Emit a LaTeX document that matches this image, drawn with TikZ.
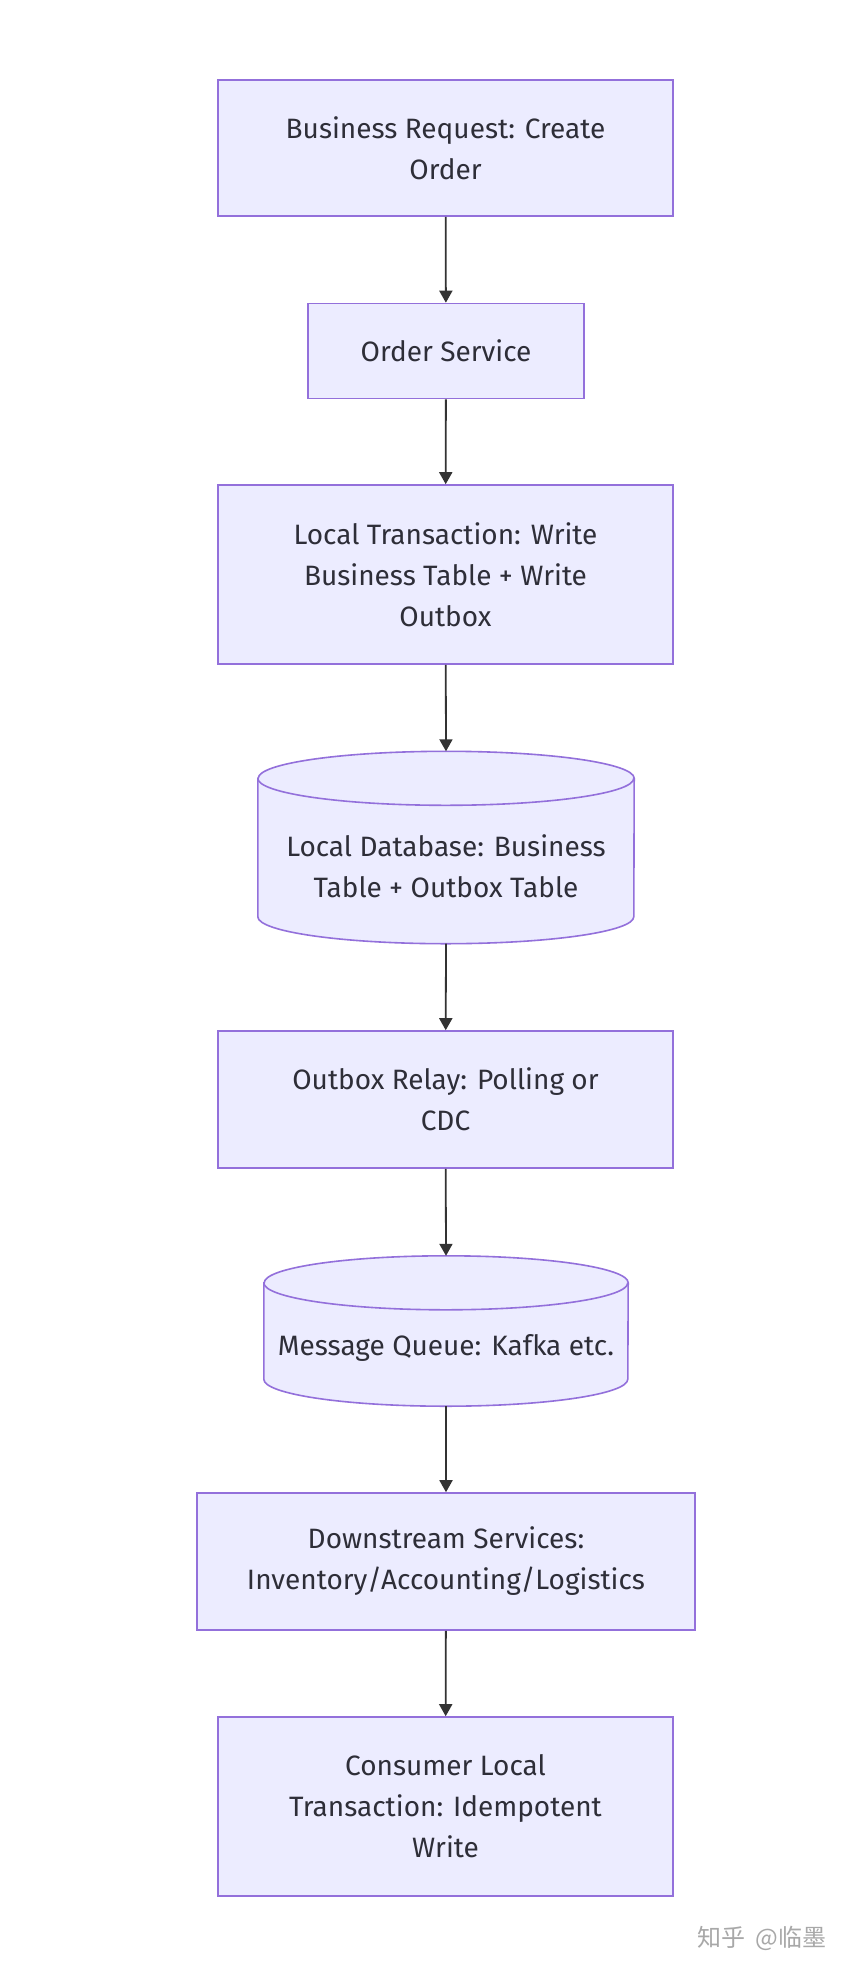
\documentclass[tikz,border=0pt]{standalone}
\usepackage{fontspec}
\setmainfont{Fira Sans}
\newfontfamily\cjk{Noto Sans CJK SC}
\usetikzlibrary{arrows.meta}
\definecolor{boxfill}{HTML}{ECECFF}
\definecolor{boxline}{HTML}{9370DB}
\definecolor{arrowc}{HTML}{333333}
\definecolor{txt}{HTML}{2E2E38}
\definecolor{wm}{HTML}{A8A8A8}
\tikzset{
  x=1pt, y=1pt,
  stepbox/.style={draw=boxline, fill=boxfill, line width=1.6pt, align=center,
    text=txt, font=\fontsize{28}{41}\selectfont, inner sep=0pt},
  cylbody/.style={draw=boxline, fill=boxfill, line width=1.6pt},
  cylhold/.style={inner sep=0pt},
  cyltext/.style={align=center, text=txt, font=\fontsize{28}{41}\selectfont, inner sep=0pt},
  flow/.style={draw=arrowc, line width=1.8pt, -{Triangle[width=13pt,length=12pt]}},
}
\begin{document}
\begin{tikzpicture}
\useasboundingbox[fill=white] (0,0) rectangle (850,-1972);

\node[stepbox, minimum width=455pt, minimum height=136pt] (b1) at (445.5,-148) {Business Request: Create\\Order};
\node[stepbox, minimum width=276pt, minimum height=95pt] (b2) at (446,-351) {Order Service};
\node[stepbox, minimum width=455pt, minimum height=179pt] (b3) at (445.5,-574.5) {Local Transaction: Write\\Business Table + Write\\Outbox};
\node[cylhold, minimum width=376pt, minimum height=192pt] (db1) at (446,-847.5) {};
\node[stepbox, minimum width=455pt, minimum height=137pt] (b4) at (445.5,-1099.5) {Outbox Relay: Polling or\\CDC};
\node[cylhold, minimum width=364pt, minimum height=150pt] (db2) at (446,-1331) {};
\node[stepbox, minimum width=498pt, minimum height=137pt] (b5) at (446,-1561.5) {Downstream Services:\\Inventory/Accounting/Logistics};
\node[stepbox, minimum width=455pt, minimum height=179pt] (b6) at (445.5,-1806.5) {Consumer Local\\Transaction: Idempotent\\Write};

% cylinder 1
\draw[cylbody] ([yshift=-27pt]db1.north west) -- ([yshift=27pt]db1.south west)
  arc[start angle=180, end angle=360, x radius=188pt, y radius=27pt]
  -- ([yshift=-27pt]db1.north east)
  arc[start angle=0, end angle=180, x radius=188pt, y radius=27pt] -- cycle;
\draw[cylbody, fill=none] ([yshift=-27pt]db1.north west)
  arc[start angle=180, end angle=360, x radius=188pt, y radius=27pt];
\node[cyltext] (db1t) at (446,-866) {Local Database: Business\\Table + Outbox Table};

% cylinder 2
\draw[cylbody] ([yshift=-27pt]db2.north west) -- ([yshift=27pt]db2.south west)
  arc[start angle=180, end angle=360, x radius=182pt, y radius=27pt]
  -- ([yshift=-27pt]db2.north east)
  arc[start angle=0, end angle=180, x radius=182pt, y radius=27pt] -- cycle;
\draw[cylbody, fill=none] ([yshift=-27pt]db2.north west)
  arc[start angle=180, end angle=360, x radius=182pt, y radius=27pt];
\node[cyltext] (db2t) at (446,-1348) {Message Queue: Kafka etc.};

\draw[flow] (b1) -- (b2);
\draw[flow] (b2) -- (b3);
\draw[flow] (b3) -- (db1.north);
\draw[flow] (db1.south) -- (b4);
\draw[flow] (b4) -- (db2.north);
\draw[flow] (db2.south) -- (b5);
\draw[flow] (b5) -- (b6);

\node[text=wm, font=\cjk\fontsize{24}{24}\selectfont, inner sep=0pt] (wmark) at (762,-1938) {知乎\hspace{4pt} @临墨};
\end{tikzpicture}
\end{document}
